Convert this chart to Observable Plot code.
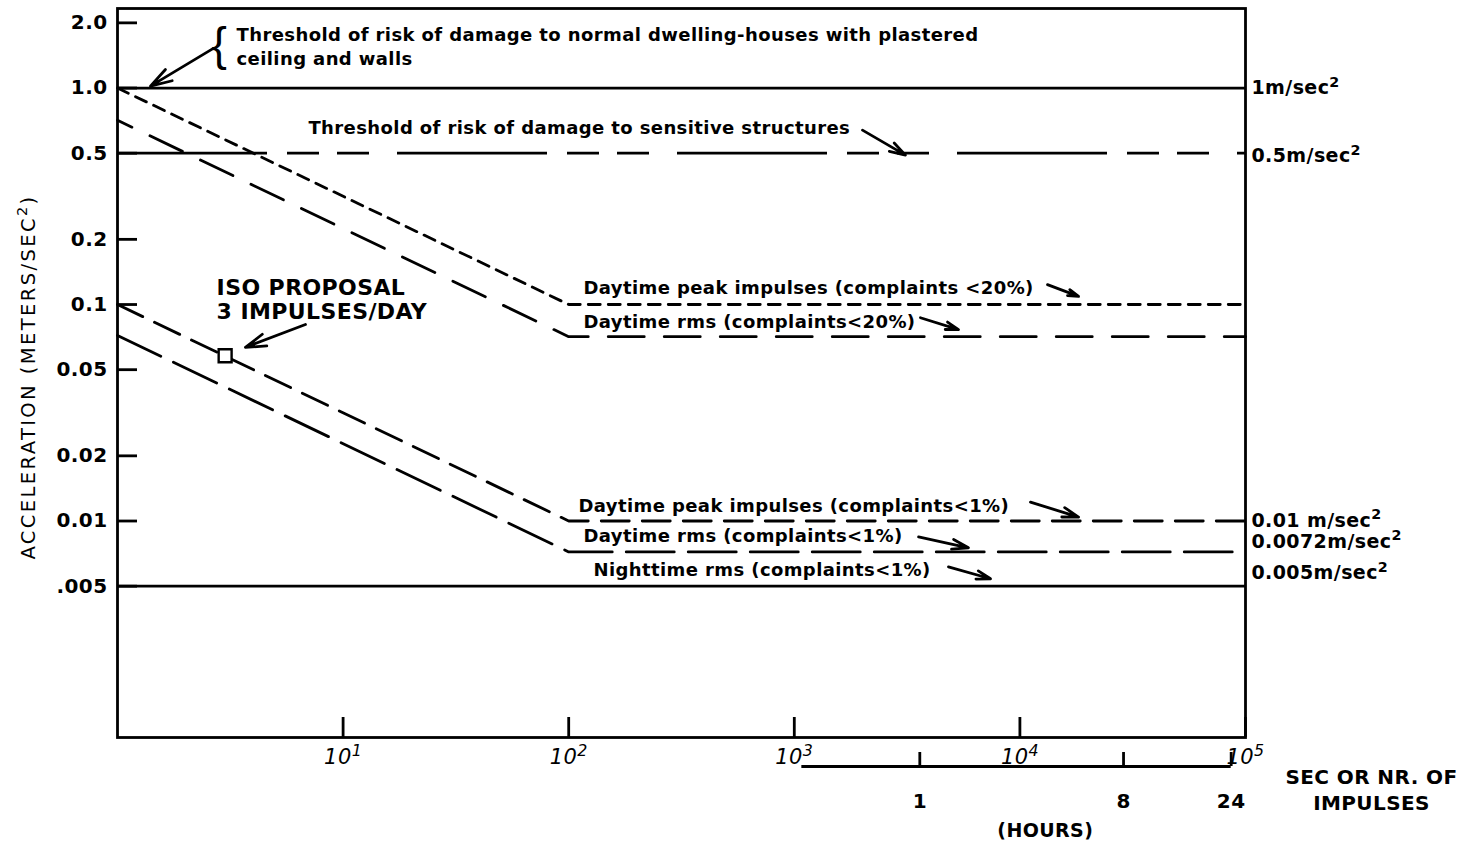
<!DOCTYPE html>
<html>
<head>
<meta charset="utf-8">
<script src="https://cdn.jsdelivr.net/npm/d3@7"></script>
<script src="https://cdn.jsdelivr.net/npm/@observablehq/plot@0.6"></script>
<style>
  html, body { margin: 0; padding: 0; background: #fff; }
  #chart svg { display: block; }
  #chart svg text { letter-spacing: 0.4px; }
</style>
</head>
<body>
<div id="chart"></div>
<script>
// ---------- data ----------
const yTicks = [2, 1, 0.5, 0.2, 0.1, 0.05, 0.02, 0.01, 0.005];
const yTickLabels = ["2.0", "1.0", "0.5", "0.2", "0.1", "0.05", "0.02", "0.01", ".005"];
const xTicks = [10, 100, 1000, 10000, 100000];
const xTickLabels = ["10¹", "10²", "10³", "10⁴", "10⁵"];
const hourTicks = [1, 8, 24];
const hourTickLabels = ["1", "8", "24"];
const hourAxisStart = 0.3;          // hours
const secondsPerHour = 3600;

const breakTimes = [1, 100, 100000];          // seconds or nr. of impulses
const peak20 = [1.0, 0.1, 0.1];               // daytime peak impulses (complaints <20%)
const rms20 = [0.71, 0.071, 0.071];           // daytime rms (complaints <20%)
const peak1 = [0.1, 0.01, 0.01];              // daytime peak impulses (complaints <1%)
const rms1 = [0.072, 0.0072, 0.0072];         // daytime rms (complaints <1%)
const dwellingLimit = [1.0];
const sensitiveLimit = [0.5];
const nightRms1 = [0.005];
const isoTime = [3];
const isoAccel = [0.058];
const rightValues = [1, 0.5, 0.01, 0.0072, 0.005];
const rightLabels = ["1m/sec²", "0.5m/sec²", "0.01 m/sec²", "0.0072m/sec²", "0.005m/sec²"];

// ---------- helpers ----------
const yMin = 0.001, yMax = 2.33, xMin = 1, xMax = 1e5;
const pts = (xs, ys) => xs.map((x, i) => ({x, y: ys[i]}));
const FONT = "DejaVu Sans";
const LW = 2.8;
const Y_TITLE = "ACCELERATION (METERS/SEC²)";

const rightDy = [0, 3, 0, -10, -13];

const notes = [
  {x: 3.37, y: 1.574, text: "Threshold of risk of damage to normal dwelling-houses with plastered\nceiling and walls"},
  {x: 7.02, y: 0.667, text: "Threshold of risk of damage to sensitive structures"},
  {x: 116.3, y: 0.121, text: "Daytime peak impulses (complaints <20%)"},
  {x: 116.3, y: 0.0843, text: "Daytime rms (complaints<20%)"},
  {x: 110.5, y: 0.01197, text: "Daytime peak impulses (complaints<1%)"},
  {x: 116.3, y: 0.00863, text: "Daytime rms (complaints<1%)"},
  {x: 128.8, y: 0.00601, text: "Nighttime rms (complaints<1%)"}
];
const arrows = [
  {x1: 2.66, y1: 1.525, x2: 1.40, y2: 1.02},
  {x1: 2005, y1: 0.639, x2: 3110, y2: 0.49},
  {x1: 13250, y1: 0.1235, x2: 18200, y2: 0.109},
  {x1: 3623, y1: 0.0869, x2: 5345, y2: 0.0766},
  {x1: 11140, y1: 0.01222, x2: 18200, y2: 0.01043},
  {x1: 3555, y1: 0.00844, x2: 5916, y2: 0.00752},
  {x1: 4823, y1: 0.00614, x2: 7410, y2: 0.00541},
  {x1: 6.81, y1: 0.0808, x2: 3.69, y2: 0.0634}
];

const chart = Plot.plot({
  width: 1481,
  height: 847,
  marginLeft: 117,
  marginRight: 236,
  marginTop: 8,
  marginBottom: 110,
  x: {type: "log", domain: [xMin, xMax]},
  y: {type: "log", domain: [yMin, yMax]},
  style: {fontFamily: FONT, color: "black", background: "white", overflow: "visible"},
  marks: [
    Plot.frame({stroke: "black", strokeWidth: LW}),
    // axes
    Plot.axisY(yTicks, {
      tickSize: -20, tickPadding: 30, label: null, strokeWidth: LW,
      tickFormat: d => yTickLabels[yTicks.indexOf(d)],
      fontSize: 20, fontWeight: "bold"
    }),
    Plot.axisX(xTicks, {
      tickSize: -20, tickPadding: 32, label: null, strokeWidth: LW,
      tickFormat: d => xTickLabels[xTicks.indexOf(d)],
      fontSize: 21, fontStyle: "italic"
    }),
    // hours axis
    Plot.ruleY([yMin], {x1: hourAxisStart * secondsPerHour, x2: hourTicks[hourTicks.length - 1] * secondsPerHour, dy: 29, strokeWidth: LW}),
    Plot.ruleX(hourTicks, {x: d => d * secondsPerHour, y1: yMin, y2: yMin, insetTop: -14, dy: 29, strokeWidth: LW}),
    Plot.text(hourTicks, {x: d => d * secondsPerHour, frameAnchor: "bottom", lineAnchor: "middle", dy: 64, text: (d, i) => hourTickLabels[i], fontSize: 20, fontWeight: "bold"}),
    Plot.text(["(HOURS)"], {x: 3.6 * secondsPerHour, frameAnchor: "bottom", lineAnchor: "middle", dy: 93, text: d => d, fontSize: 19, fontWeight: "bold"}),
    Plot.text(["SEC OR NR. OF\nIMPULSES"], {x: xMax, frameAnchor: "bottom", lineAnchor: "middle", dx: 126, dy: 51, text: d => d, fontSize: 20, fontWeight: "bold", lineHeight: 1.3}),
    // y title
    Plot.text([Y_TITLE], {frameAnchor: "left", textAnchor: "middle", dx: -89, dy: 4, rotate: -90, text: d => d, fontSize: 19.5, fill: "black"}),
    // threshold lines
    Plot.ruleY(dwellingLimit, {strokeWidth: LW}),
    Plot.ruleY(sensitiveLimit, {strokeWidth: LW, strokeDasharray: "150,20,32,18,32,28"}),
    Plot.ruleY(nightRms1, {strokeWidth: LW}),
    // criteria curves
    Plot.line(pts(breakTimes, peak20), {x: "x", y: "y", strokeWidth: LW, strokeDasharray: "12,8"}),
    Plot.line(pts(breakTimes, rms20), {x: "x", y: "y", strokeWidth: LW, strokeDasharray: "36,20", strokeDashoffset: 20}),
    Plot.line(pts(breakTimes, peak1), {x: "x", y: "y", strokeWidth: LW, strokeDasharray: "28,13"}),
    Plot.line(pts(breakTimes, rms1), {x: "x", y: "y", strokeWidth: LW, strokeDasharray: "48,14"}),
    // ISO proposal
    Plot.dot(pts(isoTime, isoAccel), {x: "x", y: "y", symbol: "square", r: 7.3, fill: "white", stroke: "black", strokeWidth: 2.4}),
    Plot.text(["ISO PROPOSAL\n3 IMPULSES/DAY"], {x: 2.75, y: 0.1054, text: d => d, textAnchor: "start", lineAnchor: "middle", fontSize: 22, fontWeight: "bold", lineHeight: 1.05}),
    // annotations
    Plot.text(["{"], {x: 2.83, y: 1.574, text: d => d, fontSize: 46, fontWeight: "normal", fontFamily: "Liberation Sans"}),
    Plot.text(notes, {x: "x", y: "y", text: "text", textAnchor: "start", lineAnchor: "middle", fontSize: 18, fontWeight: "bold", lineHeight: 1.3}),
    Plot.arrow(arrows, {x1: "x1", y1: "y1", x2: "x2", y2: "y2", bend: 0, headLength: 12, headAngle: 34, strokeWidth: 2.8}),
    // right labels
    ...rightValues.map((v, i) => Plot.text([v], {x: xMax, y: d => d, text: () => rightLabels[i], dx: 6, dy: rightDy[i], textAnchor: "start", fontSize: 19, fontWeight: "bold"}))
  ]
});

document.getElementById("chart").appendChild(chart);

// widen the letter spacing of the y-axis title, as in the original print
chart.querySelectorAll("text").forEach(el => {
  if (el.textContent === Y_TITLE) el.style.letterSpacing = "2.4px";
});

// typeset superscript digits as raised, smaller tspans
const supMap = {"¹": "1", "²": "2", "³": "3", "⁴": "4", "⁵": "5"};
const supRe = /[¹²³⁴⁵]/;
const NS = "http://www.w3.org/2000/svg";
chart.querySelectorAll("text, tspan").forEach(el => {
  if (el.children.length) return;
  const s = el.textContent;
  if (!supRe.test(s)) return;
  const fs = parseFloat(getComputedStyle(el).fontSize) || 18;
  el.textContent = "";
  let shifted = false;
  for (const p of s.split(/([¹²³⁴⁵])/)) {
    if (!p) continue;
    const t = document.createElementNS(NS, "tspan");
    if (supRe.test(p)) {
      t.textContent = supMap[p];
      t.setAttribute("font-size", (fs * 0.75).toFixed(1));
      t.setAttribute("dy", (-fs * 0.4).toFixed(1));
      shifted = true;
    } else {
      t.textContent = p;
      if (shifted) { t.setAttribute("dy", (fs * 0.4).toFixed(1)); shifted = false; }
    }
    el.appendChild(t);
  }
});
</script>
</body>
</html>
